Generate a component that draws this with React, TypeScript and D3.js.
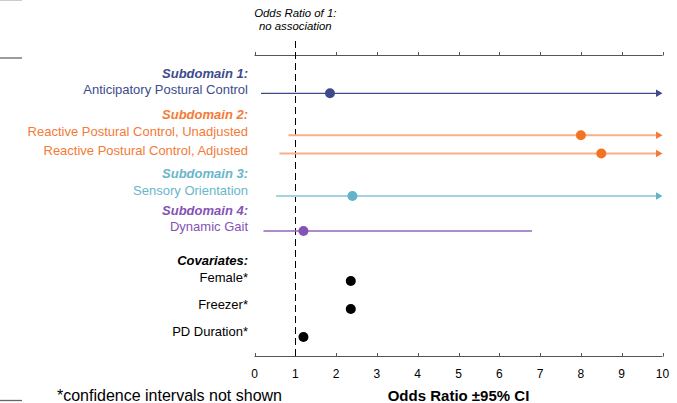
import React from "react";
import * as d3 from "d3";

const W = 677;
const H = 403;

const headings = ["Subdomain 1:", "Subdomain 2:", "Subdomain 3:", "Subdomain 4:", "Covariates:"];
const headingColors = ["#3d4b8c", "#f47a36", "#68b6ca", "#8453b4", "#000000"];
const rowLabels = [
  "Anticipatory Postural Control",
  "Reactive Postural Control, Unadjusted",
  "Reactive Postural Control, Adjusted",
  "Sensory Orientation",
  "Dynamic Gait",
  "Female*",
  "Freezer*",
  "PD Duration*",
];
const rowGroup = [0, 1, 1, 2, 3, 4, 4, 4];
const oddsRatio = [1.85, 8.0, 8.5, 2.4, 1.2, 2.36, 2.36, 1.2];
const lowerCI: (number | null)[] = [0.16, 0.83, 0.61, 0.53, 0.22, null, null, null];
const upperCI: (number | null)[] = [12, 12, 12, 12, 6.8, null, null, null];
const xTicks = [0, 1, 2, 3, 4, 5, 6, 7, 8, 9, 10];

const lineColors = ["#3d4b8c", "#f9b08a", "#f9b08a", "#a3d3df", "#9466c0", "#000", "#000", "#000"];
const lineWidths = [1.3, 2, 2, 2, 1.4, 1, 1, 1];
const dotColors = ["#3d4b8c", "#f37325", "#f37325", "#62b3c9", "#8453b4", "#000", "#000", "#000"];
const arrowColors = ["#3d4b8c", "#f47a36", "#f47a36", "#62b3c9", "#8453b4", "#000", "#000", "#000"];

// layout (pixels)
const rowY = [93.3, 135.3, 153.5, 196, 231, 281, 309, 337];
const rowTextY = [93.5, 136, 155, 195, 231, 282, 309, 336];
const headingY = [77.5, 119, 178.3, 214.5, 265];

export default function App() {
  const x = d3.scaleLinear().domain([0, 10]).range([254.5, 662.5]);
  const topY = 55.5;
  const botY = 356.5;
  const labelX = 248;
  const font = "Arial, 'Liberation Sans', Helvetica, sans-serif";

  return (
    <div style={{ position: "absolute", left: 0, top: 0 }}>
      <svg width={W} height={H} style={{ display: "block", fontFamily: font }}>
        <rect width={W} height={H} fill="#fff" />
        {/* corner artifacts */}
        <line x1={0} x2={22} y1={0.5} y2={0.5} stroke="#ccc" strokeWidth={1} />
        <line x1={0} x2={22} y1={58} y2={58} stroke="#666" strokeWidth={1.3} />
        <line x1={0} x2={22} y1={400.5} y2={400.5} stroke="#666" strokeWidth={1.3} />

        {/* top annotation */}
        <text x={x(1)} y={17} textAnchor="middle" fontSize={11.4} fontStyle="italic" fill="#000">
          Odds Ratio of 1:
        </text>
        <text x={x(1)} y={30} textAnchor="middle" fontSize={11.4} fontStyle="italic" fill="#000">
          no association
        </text>

        {/* axes */}
        {[topY, botY].map((yy, k) => (
          <g key={k}>
            <line x1={x(0)} x2={x(10)} y1={yy} y2={yy} stroke="#555" strokeWidth={1.2} />
            {xTicks.map((t) => (
              <line key={t} x1={Math.round(x(t)) + 0.5} x2={Math.round(x(t)) + 0.5} y1={yy - 3.5} y2={yy} stroke="#555" strokeWidth={1} />
            ))}
          </g>
        ))}
        {xTicks.map((t) => (
          <text key={t} x={x(t)} y={378} textAnchor="middle" fontSize={12} fill="#000">
            {t}
          </text>
        ))}

        {/* reference dashed line */}
        <line x1={Math.round(x(1)) + 0.5} x2={Math.round(x(1)) + 0.5} y1={41} y2={botY} stroke="#000" strokeWidth={1} strokeDasharray="7,4" />

        {/* headings */}
        {headings.map((h, i) => (
          <text key={h} x={labelX} y={headingY[i]} textAnchor="end" fontSize={13} fontWeight="bold" fontStyle="italic" fill={headingColors[i]}>
            {h}
          </text>
        ))}

        {/* rows */}
        {rowLabels.map((lab, i) => {
          const g = rowGroup[i];
          const lo = lowerCI[i];
          const hi = upperCI[i];
          const y = rowY[i];
          const arrow = hi !== null && hi > 10;
          const xEnd = hi === null ? 0 : arrow ? x(10) - 4 : x(hi);
          return (
            <g key={lab}>
              <text x={labelX} y={rowTextY[i]} textAnchor="end" fontSize={13} fill={headingColors[g]}>
                {lab}
              </text>
              {lo !== null && hi !== null && (
                <line x1={x(lo)} x2={xEnd} y1={y} y2={y} stroke={lineColors[i]} strokeWidth={lineWidths[i]} />
              )}
              {arrow && (
                <path
                  d={`M${x(10) - 6.5},${y - 3.8} L${x(10)},${y} L${x(10) - 6.5},${y + 3.8} Z`}
                  fill={arrowColors[i]}
                />
              )}
              <circle cx={x(oddsRatio[i])} cy={y} r={5} fill={dotColors[i]} />
            </g>
          );
        })}

        {/* footer */}
        <text x={282} y={401} textAnchor="end" fontSize={16} fill="#000">
          *confidence intervals not shown
        </text>
        <text x={458.5} y={401} textAnchor="middle" fontSize={15} fontWeight="bold" fill="#000">
          Odds Ratio ±95% CI
        </text>
      </svg>
    </div>
  );
}
